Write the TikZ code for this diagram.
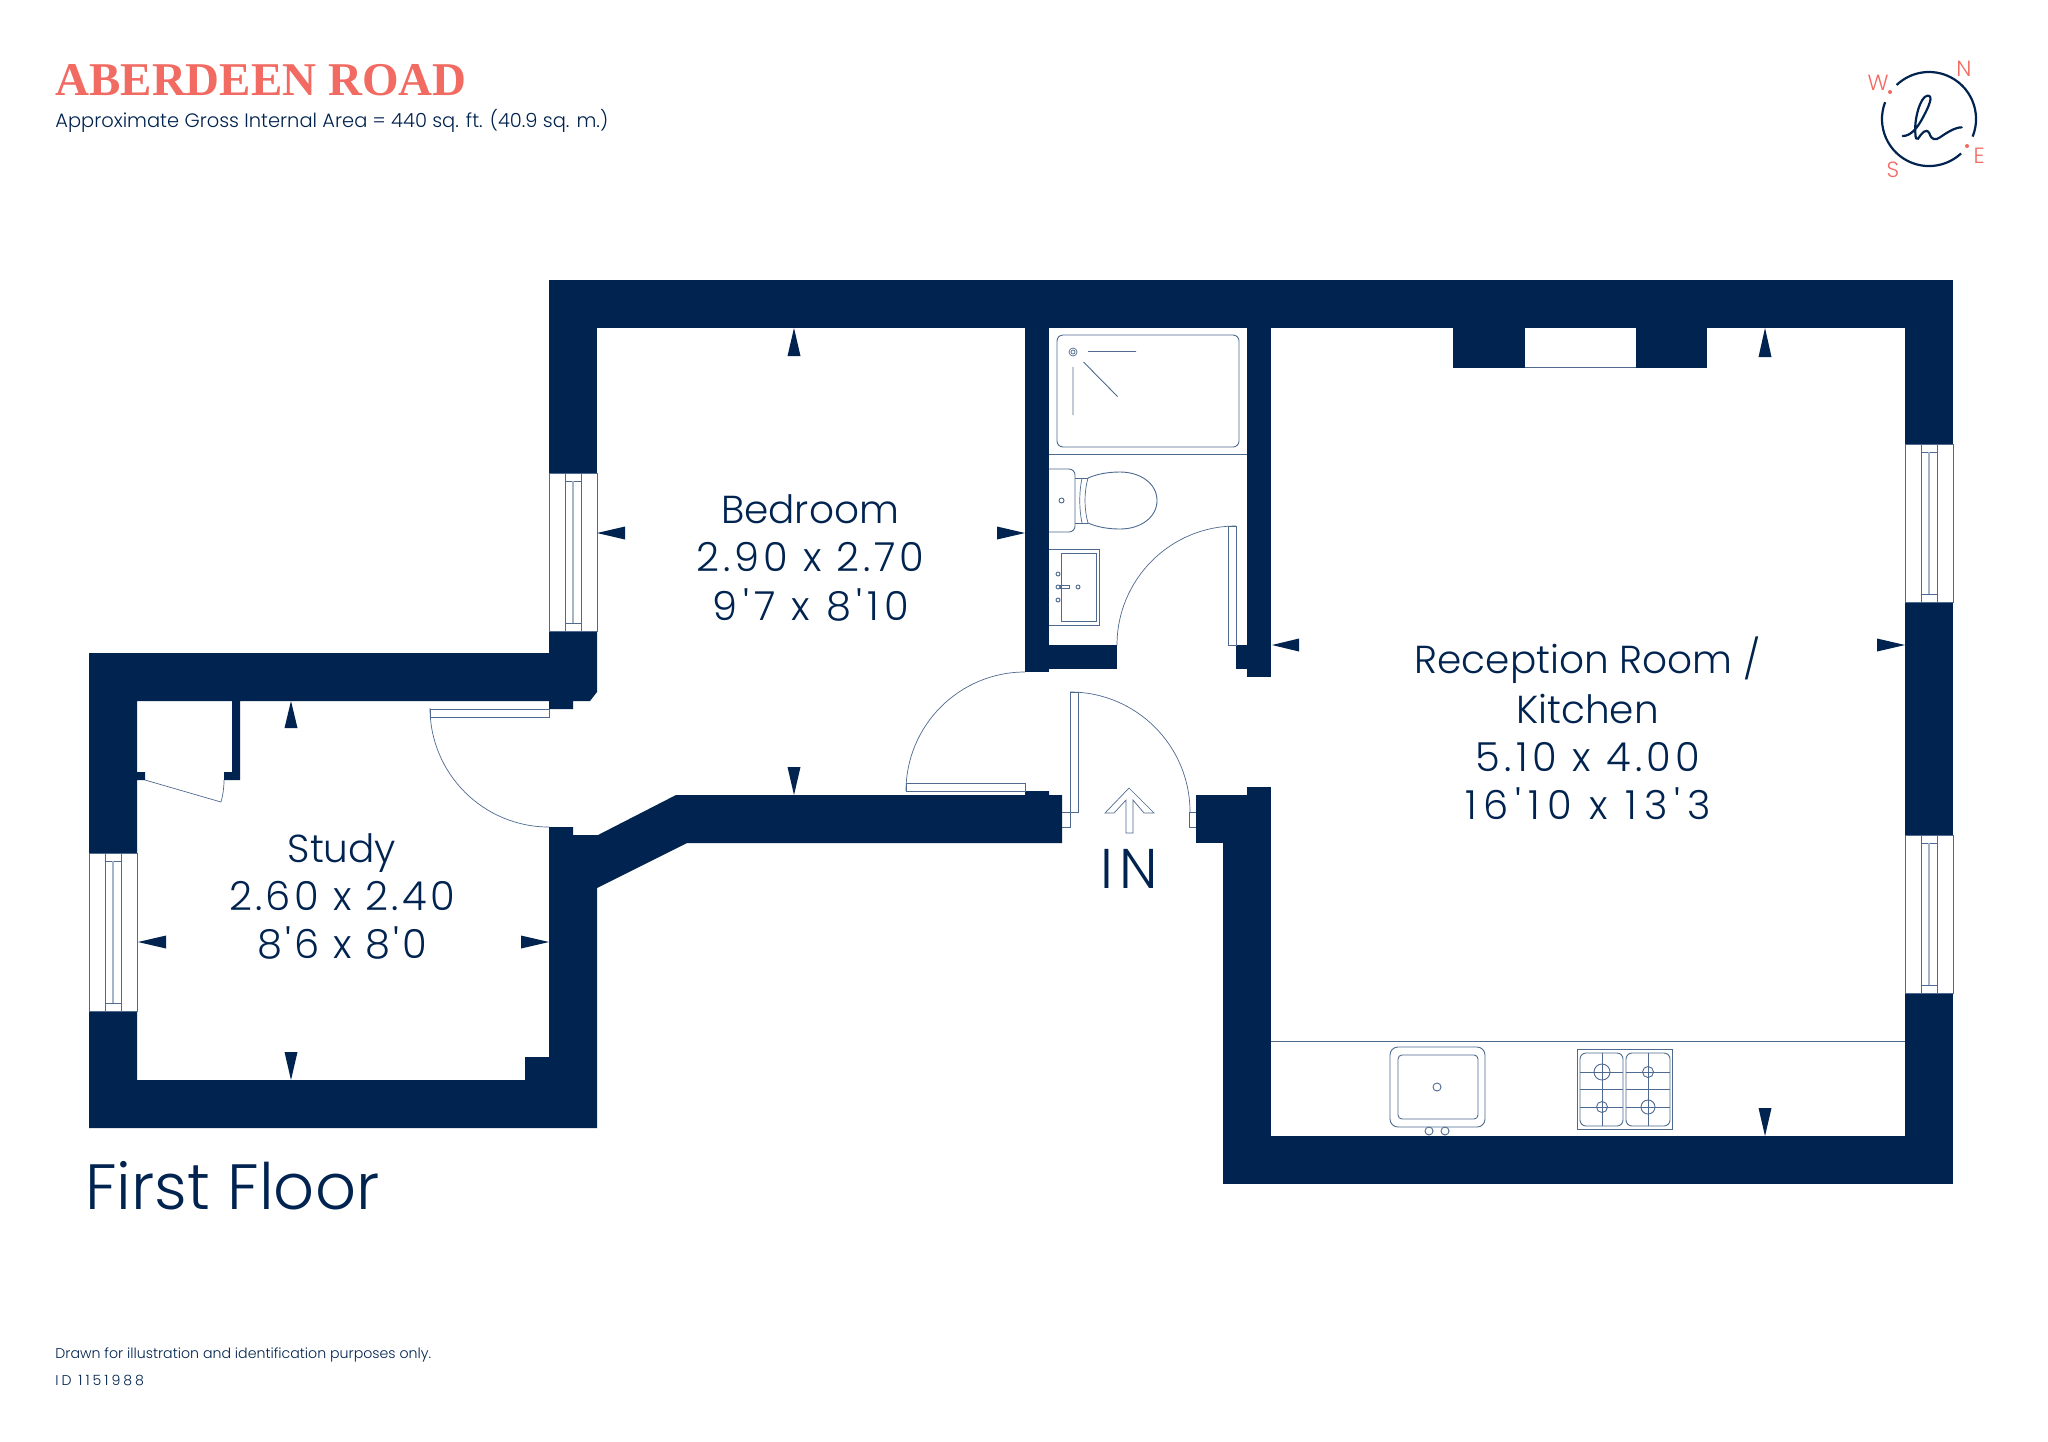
\documentclass[tikz,border=0pt]{standalone}
\usepackage{fontspec}
\newfontfamily\planfont{Poppins}[UprightFont=* Light]
\newfontfamily\titlefont{Liberation Serif}
\definecolor{navy}{HTML}{00234F}
\definecolor{coral}{HTML}{F26B63}
\definecolor{ink}{HTML}{4F6A90}
\definecolor{pale}{HTML}{A5B4C8}
\tikzset{
  wall/.style={fill=navy,draw=none},
  tip/.style={fill=navy,draw=none},
  fix/.style={draw=ink,line width=0.45pt,fill=none},
  fine/.style={draw=ink,line width=0.35pt,fill=none},
  palefix/.style={draw=pale,line width=0.8pt},
  label/.style={inner sep=0pt,text=navy,anchor=base,font=\planfont\fontsize{19.5}{24}\selectfont},
  spaced/.style={inner sep=0pt,text=navy,anchor=base,font=\planfont\addfontfeature{LetterSpace=#1}\fontsize{20}{24}\selectfont},
  leftlabel/.style={inner sep=0pt,text=navy,anchor=west},
  compass/.style={inner sep=0pt,text=coral,font=\planfont\fontsize{11}{13}\selectfont},
}
\begin{document}
\begin{tikzpicture}[x=0.5pt,y=-0.5pt]
\useasboundingbox (0,0) rectangle (2048,1441);
\fill[white] (0,0) rectangle (2048,1441);
% walls
\fill[wall] (549,280) rectangle (1953,328);
\fill[wall] (1905,328) rectangle (1953,444);
\fill[wall] (1905,602) rectangle (1953,835);
\fill[wall] (1905,993) rectangle (1953,1184);
\fill[wall] (1223,1136) rectangle (1953,1184);
\fill[wall] (1223,843) rectangle (1271,1136);
\fill[wall] (1196,795) rectangle (1271,843);
\fill[wall] (1247,787) rectangle (1271,795);
\fill[wall] (1247,328) rectangle (1271,677);
\fill[wall] (1236,645) rectangle (1247,669);
\fill[wall] (1025,328) rectangle (1049,672);
\fill[wall] (1049,645) rectangle (1117,669);
\fill[wall] (1453,328) rectangle (1525,367.5);
\fill[wall] (1636,328) rectangle (1707,367.5);
\fill[wall] (549,328) rectangle (597,473);
\fill[wall] (89,653) -- (549,653) -- (549,631) -- (597,631) -- (597,692) -- (590,701) -- (573,701) -- (573,709) -- (549,709) -- (549,701) -- (240,701) -- (240,780) -- (224,780) -- (224,772) -- (232,772) -- (232,701) -- (137,701) -- (137,772) -- (145,772) -- (145,780) -- (137,780) -- (137,853) -- (89,853) -- cycle;
\fill[wall] (89,1011) -- (137,1011) -- (137,1080) -- (525,1080) -- (525,1057) -- (549,1057) -- (549,827) -- (573,827) -- (573,835) -- (598,835) -- (676,795) -- (1025,795) -- (1025,791) -- (1049,791) -- (1049,795) -- (1062,795) -- (1062,843) -- (687,843) -- (597,888) -- (597,1128) -- (89,1128) -- cycle;
% chimney opening line
\draw[fix] (1525,367.5) -- (1636,367.5);
% windows
\draw[fix] (89,853) rectangle (137,1011);
\draw[fix] (105,853) -- (105,1011) (121,853) -- (121,1011) (105,861) -- (121,861) (105,1003) -- (121,1003);
\draw[palefix] (113,861) -- (113,1003);
\draw[fix] (549,473) rectangle (597,631);
\draw[fix] (565,473) -- (565,631) (581,473) -- (581,631) (565,481) -- (581,481) (565,623) -- (581,623);
\draw[palefix] (573,481) -- (573,623);
\draw[fix] (1905,444) rectangle (1953,602);
\draw[fix] (1921,444) -- (1921,602) (1937,444) -- (1937,602) (1921,452) -- (1937,452) (1921,594) -- (1937,594);
\draw[palefix] (1929,452) -- (1929,594);
\draw[fix] (1905,835) rectangle (1953,993);
\draw[fix] (1921,835) -- (1921,993) (1937,835) -- (1937,993) (1921,843) -- (1937,843) (1921,985) -- (1937,985);
\draw[palefix] (1929,843) -- (1929,985);
% doors
\draw[fine] (1117,645) .. controls (1117,579.3) and (1170.3,526) .. (1236,526);
\draw[fix] (1228,526) rectangle (1236.5,645);
\draw[fine] (1025,672) .. controls (959.3,672) and (906,725.3) .. (906,791);
\draw[fix] (906,783) rectangle (1025,791);
\draw[fine] (1070,692) .. controls (1136.3,692) and (1190,745.7) .. (1190,812);
\draw[fix] (1070,692) rectangle (1078,812);
\draw[fix] (1062,812) -- (1070,812) (1062,827) -- (1070,827) -- (1070,812);
\draw[fix] (1196,812) -- (1189,812) -- (1189,827) -- (1196,827);
\draw[fine] (430,708) .. controls (430,773.7) and (483.3,827) .. (549,827);
\draw[fix] (430,709) rectangle (549,717);
% cupboard door
\draw[fine] (145,780) -- (221,802) .. controls (223,795) and (224,788) .. (224,780);
% entrance arrow
\draw[fine] (1129,788) -- (1105,813) -- (1114,813) -- (1126,800) -- (1126,833) -- (1133,833) -- (1133,800) -- (1144,813) -- (1154,813) -- cycle;
% shower
\draw[fix,rounded corners=3pt] (1057,335) rectangle (1239,447);
\draw[fix] (1049,454) -- (1247,454);
\draw[fine] (1073,352) circle[radius=4] (1073,352) circle[radius=2];
\draw[fix] (1088,351.5) -- (1136,351.5) (1073,367) -- (1073,415) (1083.5,362) -- (1117.5,396.5);
% toilet
\draw[fix,rounded corners=3pt] (1049,469) -- (1075,469) -- (1075,532) -- (1049,532);
\draw[fix] (1061.5,500.5) circle[radius=2.5];
\draw[fix] (1075,478) -- (1088,478) (1075,523) -- (1088,523);
\draw[fine] (1082,478) .. controls (1079,492) and (1079,509) .. (1082,523);
\draw[fine] (1088,478) .. controls (1084,492) and (1084,509) .. (1088,523);
\draw[fix] (1088,478) .. controls (1097,474) and (1108,472) .. (1120,472) .. controls (1141,472) and (1157,484) .. (1157,500.5) .. controls (1157,517) and (1141,529) .. (1120,529) .. controls (1108,529) and (1097,527) .. (1088,523);
% basin
\draw[fix] (1049,549) -- (1099,549) -- (1099,625) -- (1049,625);
\draw[fix] (1061,553) rectangle (1096,621);
\draw[fix] (1058,574) circle[radius=2] (1058,587) circle[radius=2] (1058,600) circle[radius=2] (1078,587) circle[radius=2];
\draw[fine] (1060,585.5) rectangle (1069,588.5);
% kitchen
\draw[fix] (1271,1041.5) -- (1905,1041.5);
\draw[fix,rounded corners=4pt] (1390,1047) rectangle (1485,1127);
\draw[fix,rounded corners=2pt] (1398,1055) rectangle (1478,1119);
\draw[fix] (1437,1087) circle[radius=4] (1429,1131) circle[radius=4] (1445,1131) circle[radius=4];
\draw[fix] (1577,1049) rectangle (1672,1129);
\draw[fix,rounded corners=3pt] (1580,1053) rectangle (1623,1126);
\draw[fix,rounded corners=3pt] (1626,1053) rectangle (1670,1126);
\draw[fine] (1602,1053) -- (1602,1126) (1648,1053) -- (1648,1126) (1580,1072) -- (1623,1072) (1626,1072) -- (1670,1072) (1580,1089) -- (1623,1089) (1626,1089) -- (1670,1089) (1580,1107) -- (1623,1107) (1626,1107) -- (1670,1107);
\draw[fix] (1602,1072) circle[radius=8] (1602,1107) circle[radius=5.5] (1648,1072) circle[radius=5.5] (1648,1107) circle[radius=7];
% dimension tips
\fill[tip] (794,328) -- (800.5,356) -- (787.5,356) -- cycle;
\fill[tip] (794,795) -- (800.5,767) -- (787.5,767) -- cycle;
\fill[tip] (597,533) -- (625,526.5) -- (625,539.5) -- cycle;
\fill[tip] (1025,533) -- (997,526.5) -- (997,539.5) -- cycle;
\fill[tip] (291,701) -- (297.5,728) -- (284.5,728) -- cycle;
\fill[tip] (291,1080) -- (297.5,1052) -- (284.5,1052) -- cycle;
\fill[tip] (138,942) -- (166,935.5) -- (166,948.5) -- cycle;
\fill[tip] (549,942) -- (521,935.5) -- (521,948.5) -- cycle;
\fill[tip] (1765,328) -- (1771.5,357) -- (1758.5,357) -- cycle;
\fill[tip] (1765,1136) -- (1771.5,1108) -- (1758.5,1108) -- cycle;
\fill[tip] (1272,645) -- (1299,638.5) -- (1299,651.5) -- cycle;
\fill[tip] (1905,645) -- (1877,638.5) -- (1877,651.5) -- cycle;
% room labels
\node[label] (bed1) at (810,523) {Bedroom};
\node[spaced=10] (bed2) at (810.5,571) {2.90 x 2.70};
\node[spaced=13] (bed3) at (811,620) {9'7 x 8'10};
\node[label] (st1) at (342,862) {Study};
\node[spaced=8.2] (st2) at (342,910) {2.60 x 2.40};
\node[spaced=7.2] (st3) at (342.5,958.5) {8'6 x 8'0};
\node[label] (re1) at (1587.5,673) {Reception Room /};
\node[label] (re2) at (1587.5,723) {Kitchen};
\node[spaced=11.1] (re3) at (1588,771) {5.10 x 4.00};
\node[spaced=17.2] (re4) at (1588,819) {16'10 x 13'3};
\node[inner sep=0pt,text=navy,anchor=base,font=\planfont\addfontfeature{LetterSpace=10}\fontsize{28}{32}\selectfont] (in) at (1129,888) {IN};
\node[leftlabel,font=\planfont\fontsize{32}{36}\selectfont] (floor) at (85,1186) {First Floor};
% title
\node[inner sep=0pt,anchor=west,text=coral,font=\titlefont\bfseries\fontsize{23.5}{28}\selectfont] (title) at (55,80.5) {ABERDEEN ROAD};
\node[leftlabel,font=\planfont\fontsize{9.72}{12}\selectfont] (area) at (55,121) {Approximate Gross Internal Area = 440 sq. ft. (40.9 sq. m.)};
\node[leftlabel,font=\planfont\fontsize{7.08}{9}\selectfont] (note) at (55,1355) {Drawn for illustration and identification purposes only.};
\node[leftlabel,font=\planfont\addfontfeature{LetterSpace=21}\fontsize{7.08}{9}\selectfont] (idn) at (55,1380) {ID 1151988};
% compass
\draw[navy,line width=1.1pt] (1972.6,136.6) arc[start angle=22,end angle=-133.6,radius=47];
\draw[navy,line width=1.1pt] (1885.1,102.2) arc[start angle=-159,end angle=-313,radius=47];
\fill[coral] (1890,92) circle[radius=2] (1967,146) circle[radius=2];
\node[compass] (n) at (1964,69) {N};
\node[compass] (w) at (1878,83) {W};
\node[compass] (s) at (1893,170) {S};
\node[compass] (e) at (1979,156) {E};
\begin{scope}[shift={(1840,40)},x=0.16667pt,y=-0.16667pt]
\draw[navy,line width=1.1pt,line cap=round] (188,288) .. controls (212,288) and (232,265) .. (250,230) .. controls (266,200) and (282,165) .. (262,167) .. controls (240,170) and (222,240) .. (226,280) .. controls (226,295) and (230,300) .. (234,296) .. controls (245,280) and (258,262) .. (268,280) .. controls (275,300) and (285,302) .. (300,292) .. controls (320,278) and (345,262) .. (365,262);
\end{scope}
\end{tikzpicture}
\end{document}
